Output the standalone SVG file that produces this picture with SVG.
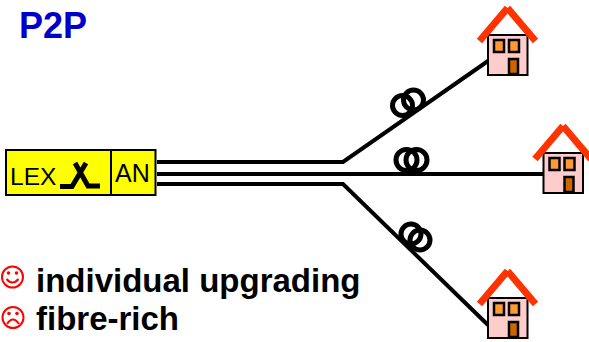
<svg xmlns="http://www.w3.org/2000/svg" width="589" height="342" viewBox="0 0 589 342">
<style>
.t{font-family:"Liberation Sans",Arial,sans-serif;fill:#000}
.b{font-weight:bold;font-size:33px}
.l{fill:none;stroke:#000;stroke-width:4}
.c{fill:none;stroke:#000;stroke-width:5}
.w{fill:#f93;stroke:#000;stroke-width:2.500}
.f{fill:none;stroke:#f00;stroke-width:2}
</style>
<defs>
<g id="house">
<rect x="488" y="35" width="39.500" height="40" fill="#fcc" stroke="#000" stroke-width="2"/>
<rect class="w" x="494" y="40" width="10" height="12"/>
<rect class="w" x="509" y="40" width="10" height="12"/>
<rect x="509" y="59" width="9" height="15" fill="#c60" stroke="#000" stroke-width="2.500"/>
<path d="M479.500 41L507.500 8M535.500 41L507.500 8" fill="none" stroke="#f30" stroke-width="7"/>
</g>
</defs>
<text class="t" x="19" y="38" font-size="36" font-weight="bold" style="fill:#00c">P2P</text>
<g id="connectors">
<path class="l" d="M157 162H343L488 61"/>
<path class="l" d="M157 174H544"/>
<path class="l" d="M157 184H343L488 325"/>
<g id="coil1"><circle class="c" cx="402.500" cy="105.500" r="10"/><circle class="c" cx="413.500" cy="100" r="10"/></g>
<g id="coil2"><circle class="c" cx="406.500" cy="160" r="10.500"/><circle class="c" cx="416.500" cy="160" r="10.500"/></g>
<g id="coil3"><circle class="c" cx="411" cy="234" r="10"/><circle class="c" cx="420" cy="240" r="10"/></g>
</g>
<g id="lex">
<rect x="6" y="150" width="105" height="45" fill="#ff0" stroke="#000" stroke-width="2"/>
<text class="t" x="10" y="185" font-size="24.500">LEX</text>
<path d="M60 186.500H72L86 163M75 163L88 186H100" fill="none" stroke="#000" stroke-width="5"/>
</g>
<g id="an">
<rect x="111" y="150" width="44.500" height="45" fill="#ff0" stroke="#000" stroke-width="2"/>
<text class="t" x="115" y="182" font-size="25">AN</text>
</g>
<g id="house1"><use href="#house"/></g>
<g id="house2"><use href="#house" x="55.500" y="118"/></g>
<g id="house3"><use href="#house" y="263"/></g>
<g id="smile">
<circle class="f" cx="12.500" cy="277" r="10.500"/>
<circle cx="8.500" cy="273" r="1.800" fill="#f00"/><circle cx="16.500" cy="273" r="1.800" fill="#f00"/>
<path class="f" d="M6.500 279Q12.500 286 18.500 279"/>
</g>
<g id="frown">
<circle class="f" cx="13" cy="317.500" r="10.500"/>
<circle cx="9" cy="313.500" r="1.800" fill="#f00"/><circle cx="17" cy="313.500" r="1.800" fill="#f00"/>
<path class="f" d="M7 324Q13 315 19 324"/>
</g>
<text class="t b" x="36" y="292">individual upgrading</text>
<text class="t b" x="36" y="330">fibre-rich</text>
</svg>
